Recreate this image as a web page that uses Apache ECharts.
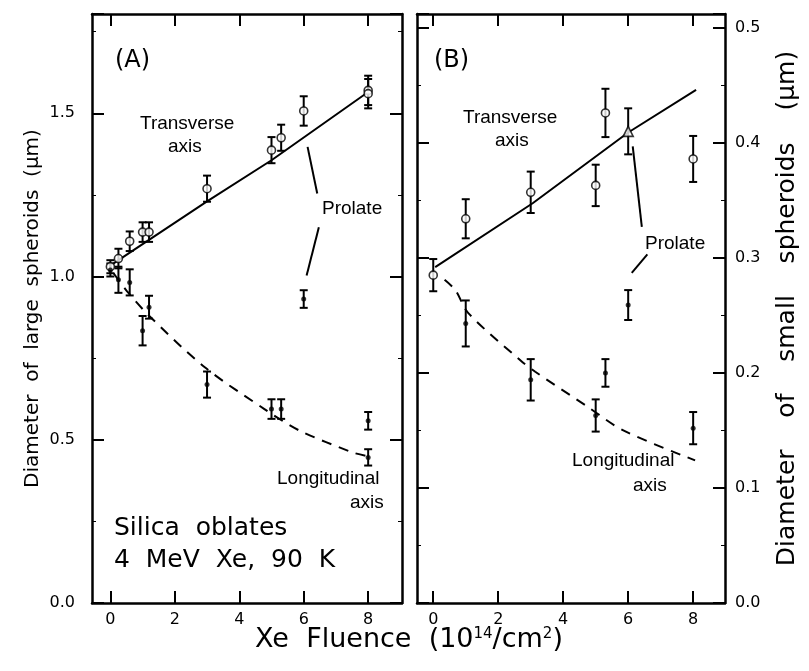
<!DOCTYPE html>
<html><head><meta charset="utf-8">
<script src="https://cdn.jsdelivr.net/npm/echarts@6/dist/echarts.min.js"></script>
<style>html,body{margin:0;padding:0;background:#fff}#c{width:809px;height:671px}</style>
</head><body><div id="c"></div>
<script>
// ---------- data (x = Xe fluence 1e14/cm2, y = diameter um, e = error half-width) ----------
const xTicks = [0, 2, 4, 6, 8];
// Panel A (large spheroids)
const aTransOblate = [[0,1.03,0.02],[0.25,1.055,0.03],[0.6,1.108,0.03],[1.0,1.136,0.03],[1.2,1.136,0.03],[3,1.269,0.04],[5,1.387,0.04],[5.3,1.425,0.04],[8,1.57,0.045]];
const aLongOblate  = [[0,1.02,0.02],[0.25,0.99,0.04],[0.6,0.982,0.04],[1.0,0.834,0.045],[1.2,0.906,0.035],[3,0.669,0.04],[5,0.594,0.03],[5.3,0.594,0.03],[8,0.446,0.025]];
const aTransProlate = [[6,1.507,0.045],[8,1.56,0.045]];
const aLongProlate  = [[6,0.931,0.027],[8,0.558,0.027]];
const aTransFit = [[0.1,1.04],[3,1.23],[5,1.356],[8,1.565]];
const aLongFit  = [[0.1,1.01],[0.5,0.957],[1.2,0.88],[2.93,0.722],[4.78,0.594],[5.87,0.528],[7.52,0.461],[7.93,0.451]];
const aLeader1 = [[6.12,1.397],[6.42,1.254]];
const aLeader2 = [[6.47,1.151],[6.09,1.003]];
// Panel B (small spheroids)
const bTransOblate = [[0,0.285,0.014],[1,0.334,0.017],[3,0.357,0.018],[5,0.363,0.018],[5.3,0.426,0.021],[8,0.386,0.02]];
const bLongOblate  = [[1,0.243,0.02],[3,0.194,0.018],[5,0.163,0.014],[5.3,0.2,0.012],[8,0.152,0.014]];
const bTransProlate = [[6,0.41,0.02]];
const bLongProlate  = [[6,0.259,0.013]];
const bTransFit = [[0.06,0.292],[3.06,0.3475],[6,0.409],[8.09,0.446]];
const bLongFit  = [[0.35,0.281],[0.68,0.272],[1.08,0.252],[2.68,0.211],[3.14,0.201],[4.73,0.171],[5.85,0.150],[8.06,0.124]];
const bLeader1 = [[6.14,0.397],[6.42,0.327]];
const bLeader2 = [[6.59,0.303],[6.11,0.287]];

// ---------- chart ----------
const FONT = '"DejaVu Sans", "Liberation Sans", Arial, sans-serif';
const AFONT = '"Liberation Sans", Arial, sans-serif';
const chart = echarts.init(document.getElementById('c'), null, {renderer:'canvas'});

function errRender(params, api){
  const x = api.value(0), y = api.value(1), e = api.value(2);
  const p = api.coord([x, y + e]), q = api.coord([x, y - e]);
  const w = 4;
  const st = {stroke:'#000', lineWidth:2};
  return {type:'group', children:[
    {type:'line', shape:{x1:p[0],y1:p[1],x2:q[0],y2:q[1]}, style:st},
    {type:'line', shape:{x1:p[0]-w,y1:p[1],x2:p[0]+w,y2:p[1]}, style:st},
    {type:'line', shape:{x1:q[0]-w,y1:q[1],x2:q[0]+w,y2:q[1]}, style:st}
  ]};
}
function errSeries(data, xi, yi){
  return {type:'custom', xAxisIndex:xi, yAxisIndex:yi, renderItem:errRender, data:data, z:3, silent:true, animation:false};
}
function pts(data, xi, yi, kind){
  const open = kind !== 'dot';
  return {type:'scatter', xAxisIndex:xi, yAxisIndex:yi, data:data.map(d=>[d[0],d[1]]),
    symbol: kind==='tri' ? 'triangle' : 'circle',
    symbolSize: kind==='dot' ? 5 : (kind==='tri' ? 10 : 8),
    itemStyle:{color: open ? '#fff' : '#000', borderColor:'#000', borderWidth: open ? 1.6 : 0},
    z:5, silent:true, animation:false};
}
function line(data, xi, yi, dashed, smooth){
  return {type:'line', xAxisIndex:xi, yAxisIndex:yi, data:data, showSymbol:false, symbol:'none',
    smooth: smooth ? 0.3 : false,
    lineStyle:{color:'#000', width:2, type: dashed ? [10,8] : 'solid'}, z:2, silent:true, animation:false};
}

const axLine = {show:true, onZero:false, lineStyle:{color:'#000', width:2.5}};
const lab = {color:'#000', fontSize:16, fontFamily:FONT};
function xAx(grid, min, max, pos, showLab){
  return {type:'value', gridIndex:grid, position:pos, min:min, max:max,
    axisLine:axLine, splitLine:{show:false},
    axisTick:{show:true, inside:true, length:12, lineStyle:{color:'#000', width:2}, customValues:xTicks},
    axisLabel: showLab ? Object.assign({show:true, margin:9, customValues:xTicks, formatter:v=>String(v)}, lab) : {show:false}};
}
function yAx(grid, max, interval, pos, showLab, margin, extra){
  return Object.assign({type:'value', gridIndex:grid, position:pos, min:0, max:max, interval:interval,
    axisLine:axLine, splitLine:{show:false},
    axisTick:{show:true, inside:true, length:12, lineStyle:{color:'#000', width:2}},
    minorTick:{show:true, splitNumber:2, length:4, lineStyle:{color:'#000', width:1}},
    axisLabel: showLab ? Object.assign({show:true, showMaxLabel:false, margin:margin, formatter:v=>v.toFixed(1)}, lab) : {show:false}}, extra||{});
}

const option = {
  animation:false,
  backgroundColor:'#fff',
  grid:[
    {left:92, top:14, width:310, height:589},
    {left:417, top:14, width:308, height:589}
  ],
  xAxis:[
    xAx(0, -0.57, 9.05, 'bottom', true),
    xAx(0, -0.57, 9.05, 'top', false),
    xAx(1, -0.5, 8.98, 'bottom', true),
    xAx(1, -0.5, 8.98, 'top', false)
  ],
  yAxis:[
    yAx(0, 1.804, 0.5, 'left', true, 17, {name:'Diameter  of  large  spheroids  (\u03bcm)', nameLocation:'middle', nameGap:49,
      nameTextStyle:{color:'#000', fontSize:20, fontFamily:FONT}}),
    yAx(0, 1.804, 0.5, 'right', false, 10),
    yAx(1, 0.512, 0.1, 'left', false, 10),
    yAx(1, 0.512, 0.1, 'right', true, 10, {name:'Diameter    of    small    spheroids    (\u03bcm)', nameLocation:'middle', nameGap:50, nameRotate:90,
      nameTextStyle:{color:'#000', fontSize:25, fontFamily:FONT}})
  ],
  series:[
    line(aTransFit,0,0,false,false), line(aLongFit,0,0,true,true),
    line(aLeader1,0,0,false,false), line(aLeader2,0,0,false,false),
    errSeries(aTransOblate,0,0), errSeries(aLongOblate,0,0), errSeries(aTransProlate,0,0), errSeries(aLongProlate,0,0),
    pts(aTransOblate,0,0,'open'), pts(aLongOblate,0,0,'dot'), pts(aTransProlate,0,0,'open'), pts(aLongProlate,0,0,'dot'),
    line(bTransFit,2,3,false,false), line(bLongFit,2,3,true,true),
    line(bLeader1,2,3,false,false), line(bLeader2,2,3,false,false),
    errSeries(bTransOblate,2,3), errSeries(bLongOblate,2,3), errSeries(bTransProlate,2,3), errSeries(bLongProlate,2,3),
    pts(bTransOblate,2,3,'open'), pts(bLongOblate,2,3,'dot'), pts(bTransProlate,2,3,'tri'), pts(bLongProlate,2,3,'dot')
  ],
  graphic:[
    {type:'text', left:115, top:49, style:{text:'(A)', font:'24px '+FONT, fill:'#000'}},
    {type:'text', left:140, top:114, style:{text:'Transverse', font:'19px '+AFONT, fill:'#000'}},
    {type:'text', left:168, top:137, style:{text:'axis', font:'19px '+AFONT, fill:'#000'}},
    {type:'text', left:322, top:199, style:{text:'Prolate', font:'19px '+AFONT, fill:'#000'}},
    {type:'text', left:277, top:469, style:{text:'Longitudinal', font:'19px '+AFONT, fill:'#000'}},
    {type:'text', left:350, top:493, style:{text:'axis', font:'19px '+AFONT, fill:'#000'}},
    {type:'text', left:114, top:516, style:{text:'Silica  oblates', font:'25px '+FONT, fill:'#000'}},
    {type:'text', left:114, top:548, style:{text:'4  MeV  Xe,  90  K', font:'25px '+FONT, fill:'#000'}},
    {type:'text', left:434, top:49, style:{text:'(B)', font:'24px '+FONT, fill:'#000'}},
    {type:'text', left:463, top:108, style:{text:'Transverse', font:'19px '+AFONT, fill:'#000'}},
    {type:'text', left:495, top:131, style:{text:'axis', font:'19px '+AFONT, fill:'#000'}},
    {type:'text', left:645, top:234, style:{text:'Prolate', font:'19px '+AFONT, fill:'#000'}},
    {type:'text', left:572, top:451, style:{text:'Longitudinal', font:'19px '+AFONT, fill:'#000'}},
    {type:'text', left:633, top:476, style:{text:'axis', font:'19px '+AFONT, fill:'#000'}},
    {type:'text', x:409, y:640, style:{
      text:'Xe  Fluence  (10{s|14}/cm{s|2})', font:'27px '+FONT, fill:'#000', align:'center', verticalAlign:'middle',
      rich:{s:{fontSize:15, fontFamily:FONT, verticalAlign:'top', padding:[0,0,11,0]}}}}
  ]
};
chart.setOption(option);
</script></body></html>
